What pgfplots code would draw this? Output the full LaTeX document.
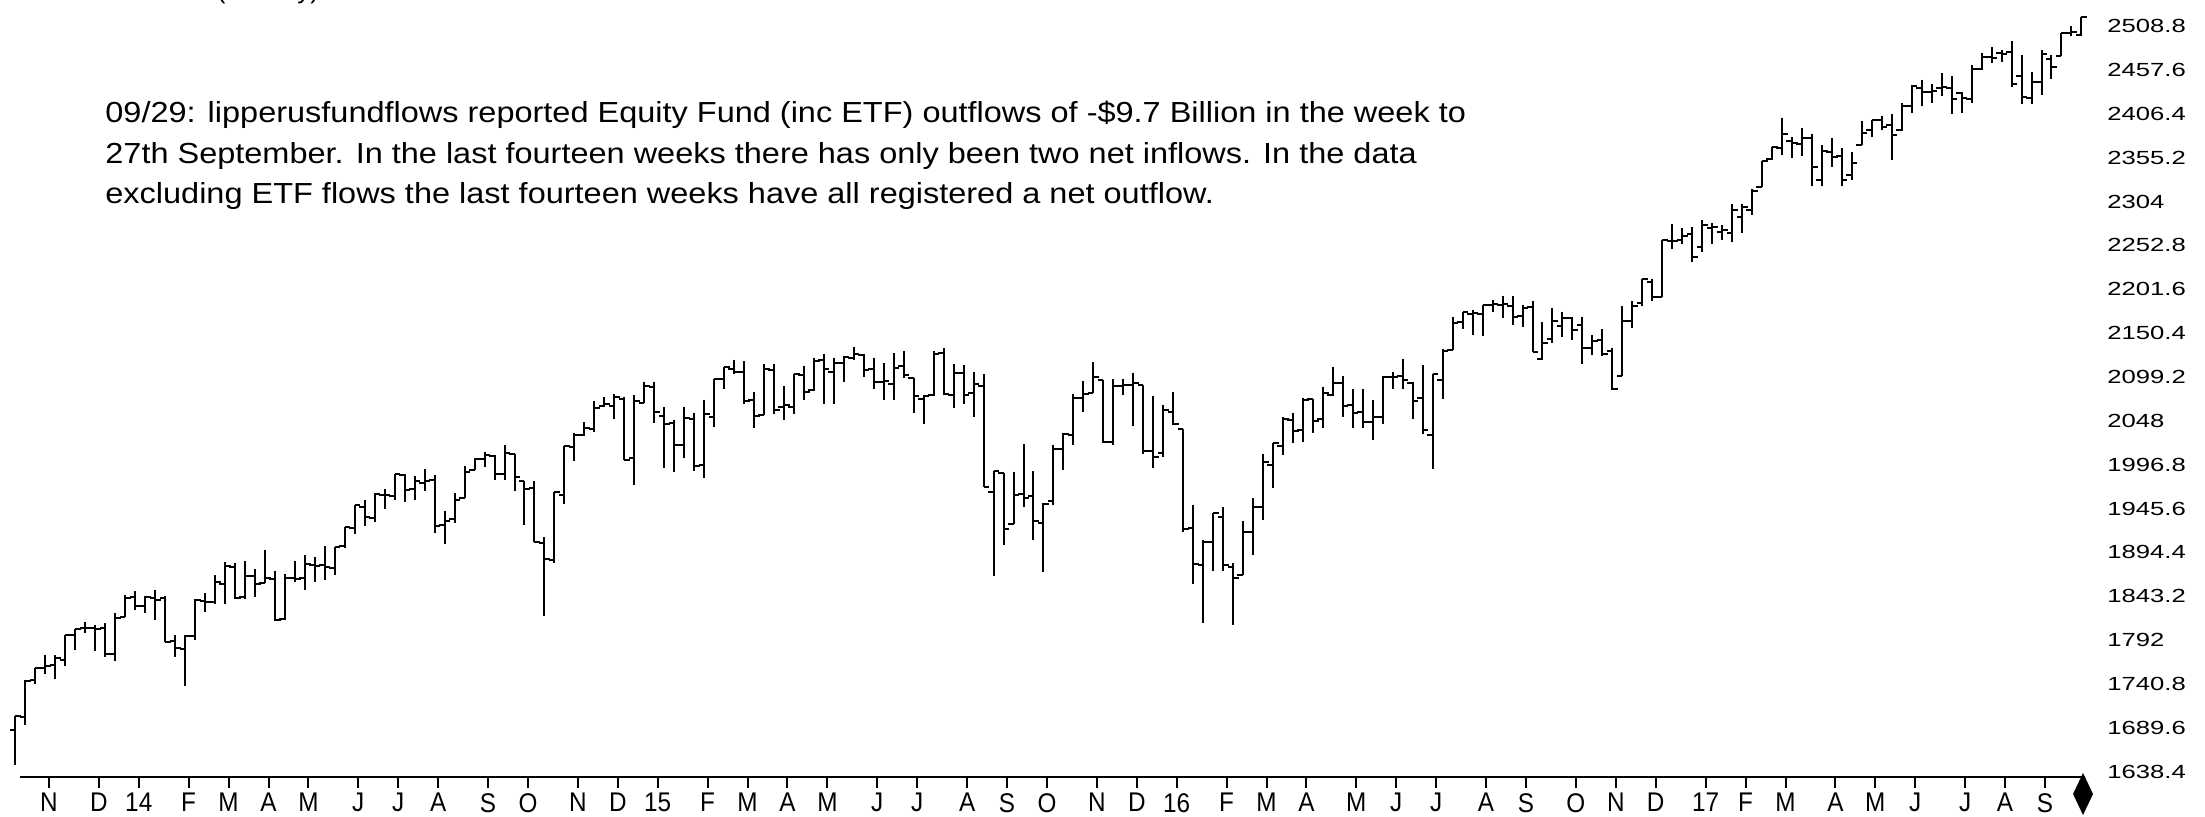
\documentclass[border=0pt]{standalone}
\usepackage{fontspec}
\setmainfont{Liberation Sans}
\newfontfamily\ylabfont[FakeStretch=1.35]{Liberation Sans}
\newfontfamily\xlabfont[FakeStretch=0.9]{Liberation Sans}
\newfontfamily\notefont[FakeStretch=1.12]{Liberation Sans}
\usepackage{pgfplots}
\usepackage{pgfplotstable}
\pgfplotsset{compat=1.18}

% weekly bars, week 0 = 7 Oct 2013
\pgfplotstableread{
i o h l c
0 1687 1703.4 1646.5 1703.2
1 1702 1745.3 1692.6 1744.5
2 1745 1759.8 1740.5 1759.8
3 1759 1775.2 1752.7 1761.6
4 1763 1774.5 1746.2 1770.6
5 1769 1798.2 1761.6 1798.2
6 1798 1804.8 1780.0 1804.8
7 1806 1813.6 1800.6 1805.8
8 1806 1810.0 1779.2 1805.1
9 1806 1811.5 1772.3 1775.3
10 1776 1823.8 1767.9 1818.3
11 1819 1844.9 1819.0 1841.4
12 1842 1849.4 1827.7 1831.4
13 1832 1843.2 1823.7 1842.4
14 1841 1850.8 1815.5 1838.7
15 1841 1844.0 1790.3 1790.3
16 1791 1798.0 1772.3 1782.6
17 1782 1798.0 1737.9 1797.0
18 1797 1840.0 1791.8 1838.6
19 1838 1847.5 1824.6 1836.3
20 1836 1867.9 1834.4 1859.5
21 1857 1883.6 1834.4 1878.0
22 1877 1882.4 1839.6 1841.1
23 1842 1883.9 1839.9 1866.5
24 1867 1875.0 1842.6 1857.6
25 1859 1897.3 1858.6 1865.1
26 1863 1872.5 1814.4 1815.7
27 1817 1869.6 1815.8 1864.9
28 1865 1884.9 1859.7 1863.4
29 1865 1891.3 1850.6 1881.1
30 1880 1889.0 1859.8 1878.5
31 1880 1902.2 1862.4 1877.9
32 1876 1901.3 1868.1 1900.5
33 1902 1924.0 1900.0 1923.6
34 1923 1949.4 1915.9 1949.4
35 1948 1955.5 1925.8 1936.2
36 1934 1963.9 1930.0 1962.9
37 1962 1968.2 1944.7 1960.9
38 1960 1985.6 1955.6 1985.4
39 1985 1985.4 1952.9 1967.6
40 1968 1983.9 1955.6 1978.2
41 1976 1991.4 1965.8 1978.3
42 1979 1984.9 1916.7 1925.2
43 1926 1942.9 1904.8 1931.6
44 1933 1964.0 1928.8 1955.1
45 1958 1994.7 1958.0 1988.4
46 1991 2005.0 1990.5 2003.4
47 2004 2011.2 1994.1 2007.7
48 2007 2008.0 1978.5 1985.5
49 1986 2019.3 1978.5 2010.4
50 2009 2009.0 1965.9 1982.9
51 1978 1978.2 1926.0 1967.9
52 1970 1977.4 1906.0 1906.1
53 1905 1912.0 1820.7 1886.8
54 1885 1965.3 1882.0 1964.6
55 1962 2018.2 1951.0 2018.1
56 2018 2034.3 2001.0 2031.9
57 2032 2046.2 2030.2 2039.8
58 2039 2071.5 2034.5 2063.5
59 2065 2075.8 2064.0 2067.6
60 2065 2079.5 2049.6 2075.4
61 2074 2075.8 2002.3 2002.3
62 2005 2077.9 1972.6 2070.7
63 2069 2093.6 2069.0 2088.8
64 2088 2093.6 2046.0 2058.2
65 2054 2064.4 1992.4 2044.8
66 2046 2049.3 1988.1 2019.4
67 2020 2064.6 2004.5 2051.8
68 2050 2057.6 1989.2 1995.0
69 1996 2072.4 1980.9 2055.5
70 2053 2097.0 2041.3 2097.0
71 2097 2110.6 2085.4 2110.3
72 2109 2119.6 2103.0 2104.5
73 2105 2117.5 2067.3 2071.3
74 2072 2081.4 2039.7 2053.4
75 2055 2114.9 2055.0 2108.1
76 2107 2114.9 2056.2 2061.0
77 2064 2088.3 2048.4 2067.0
78 2064 2102.6 2056.0 2102.1
79 2102 2111.9 2072.4 2081.2
80 2084 2120.9 2083.0 2117.7
81 2119 2125.9 2067.9 2108.3
82 2105 2120.9 2067.9 2116.1
83 2115 2124.0 2092.9 2122.7
84 2121 2134.7 2119.1 2126.1
85 2125 2126.2 2099.0 2107.4
86 2108 2121.9 2085.7 2092.8
87 2093 2115.0 2072.1 2094.1
88 2091 2126.7 2072.0 2110.0
89 2112 2129.9 2097.6 2101.5
90 2098 2098.0 2056.6 2076.8
91 2073 2078.5 2044.0 2076.6
92 2078 2129.0 2077.3 2126.6
93 2127 2132.8 2077.8 2079.7
94 2078 2114.2 2063.5 2103.8
95 2104 2112.7 2067.9 2077.6
96 2080 2105.4 2052.1 2091.5
97 2089 2102.3 1970.9 1970.9
98 1965 1989.0 1867.0 1988.9
99 1987 1987.0 1903.0 1921.2
100 1927 1988.6 1927.0 1961.0
101 1963 2020.9 1948.0 1958.0
102 1960 1989.4 1908.8 1931.3
103 1929 1952.0 1871.9 1951.4
104 1954 2020.2 1949.9 2014.9
105 2015 2034.0 1990.7 2033.1
106 2031 2079.7 2019.4 2075.2
107 2075 2094.3 2058.8 2079.4
108 2080 2116.5 2080.0 2099.2
109 2096 2096.0 2022.0 2023.0
110 2023 2097.0 2019.4 2089.2
111 2089 2096.9 2078.3 2090.1
112 2090 2104.3 2042.4 2091.7
113 2090 2090.0 2008.8 2012.4
114 2013 2076.7 1993.3 2005.6
115 2010 2067.0 2005.9 2061.0
116 2058 2081.6 2043.6 2043.9
117 2038 2038.0 1918.0 1922.0
118 1923 1950.3 1857.8 1880.3
119 1880 1908.8 1812.3 1906.9
120 1906 1940.2 1872.7 1940.2
121 1936 1947.2 1872.7 1880.0
122 1877 1881.6 1810.1 1864.8
123 1868 1930.7 1868.0 1917.8
124 1918 1958.0 1891.0 1948.0
125 1947 2009.1 1931.8 2000.0
126 1996 2022.4 1969.3 2022.2
127 2019 2052.4 2008.7 2049.6
128 2049 2056.6 2022.5 2035.9
129 2037 2075.0 2023.0 2072.8
130 2073 2073.0 2033.8 2047.6
131 2050 2087.8 2039.7 2080.7
132 2078 2111.0 2077.5 2091.6
133 2092 2099.9 2052.3 2065.3
134 2067 2084.9 2039.5 2057.1
135 2058 2084.9 2039.5 2046.6
136 2047 2071.9 2025.9 2052.3
137 2052 2100.0 2043.8 2099.1
138 2099 2105.3 2085.4 2099.1
139 2100 2120.6 2084.8 2096.1
140 2092 2093.7 2050.4 2071.2
141 2075 2113.3 2032.1 2037.4
142 2031 2103.0 1991.7 2103.0
143 2096 2131.7 2074.0 2129.9
144 2131 2169.1 2131.0 2161.7
145 2163 2175.6 2154.8 2175.0
146 2173 2177.1 2148.0 2173.6
147 2173 2183.0 2147.6 2182.9
148 2183 2188.5 2175.0 2184.1
149 2183 2193.8 2168.5 2183.9
150 2182 2193.4 2160.4 2169.0
151 2170 2183.5 2157.6 2180.0
152 2181 2187.9 2127.8 2127.8
153 2120 2163.3 2119.1 2139.2
154 2143 2180.0 2139.2 2164.7
155 2159 2175.3 2145.3 2168.3
156 2168 2169.6 2142.6 2153.7
157 2160 2169.6 2114.7 2133.0
158 2133 2148.4 2124.4 2141.2
159 2142 2154.8 2123.8 2126.4
160 2129 2133.3 2083.8 2085.2
161 2100 2182.3 2100.0 2164.5
162 2165 2188.0 2156.0 2181.9
163 2186 2213.4 2182.3 2213.4
164 2210 2214.0 2187.4 2192.0
165 2192 2259.5 2192.0 2259.5
166 2258 2277.5 2248.4 2258.1
167 2259 2273.0 2254.8 2263.8
168 2266 2273.8 2233.6 2238.8
169 2251 2282.1 2245.1 2277.0
170 2273 2279.3 2254.3 2274.6
171 2269 2276.2 2258.8 2271.3
172 2267 2301.0 2257.0 2294.7
173 2286 2301.0 2267.0 2297.4
174 2294 2319.2 2288.5 2316.1
175 2321 2351.3 2321.0 2351.2
176 2354 2367.3 2352.9 2367.3
177 2366 2401.0 2358.9 2383.1
178 2375 2378.8 2354.5 2372.6
179 2371 2390.0 2357.5 2378.3
180 2378 2382.4 2322.3 2344.0
181 2329 2370.4 2322.3 2362.7
182 2362 2378.4 2344.5 2355.5
183 2357 2366.4 2322.3 2329.0
184 2335 2361.4 2329.0 2348.7
185 2370 2398.2 2370.0 2384.2
186 2388 2399.3 2379.8 2399.3
187 2399 2403.9 2388.0 2390.9
188 2393 2405.8 2352.7 2381.7
189 2387 2418.7 2386.8 2415.8
190 2415 2440.2 2407.7 2439.1
191 2437 2446.2 2415.7 2431.8
192 2432 2441.0 2419.4 2433.2
193 2437 2453.8 2426.8 2438.3
194 2436 2450.4 2405.7 2423.4
195 2431 2432.0 2407.7 2425.2
196 2424 2463.5 2418.5 2459.3
197 2459 2477.6 2457.2 2472.5
198 2473 2484.0 2465.8 2472.1
199 2477 2480.4 2466.5 2476.8
200 2478 2490.9 2437.8 2441.3
201 2450 2474.9 2417.4 2425.6
202 2425 2454.8 2417.4 2443.1
203 2443 2480.4 2428.2 2476.6
204 2470 2475.0 2446.6 2461.4
205 2474 2500.2 2474.0 2500.2
206 2501 2508.9 2496.7 2502.2
207 2499 2519.4 2496.8 2519.4
}\weekly

\begin{document}
\begin{tikzpicture}
\useasboundingbox (0pt,0pt) rectangle (1102.5pt,408pt);
\begin{axis}[
  at={(10pt,19.5pt)}, anchor=south west,
  scale only axis, width=1032.5pt, height=388.5pt,
  xmin=0.451, xmax=207.36, ymin=1632.21, ymax=2539.29,
  clip=false,
  axis x line*=bottom, axis y line*=right,
  x axis line style={line width=1pt, black, -},
  y axis line style={draw=none},
  tick align=outside, major tick length=5.5pt,
  xtick={3.35,8.35,12.35,17.35,21.35,25.35,29.35,34.35,38.35,42.35,47.35,51.35,
         56.35,60.35,64.35,69.35,73.35,77.35,81.35,86.35,90.35,95.35,99.35,103.35,
         108.35,112.35,116.35,121.35,125.35,129.35,134.35,138.35,142.35,147.35,151.35,156.35,
         160.35,164.35,169.35,173.35,177.35,182.35,186.35,190.35,195.35,199.35,203.35},
  xticklabels={N,D,14,F,M,A,M,J,J,A,S,O,N,D,15,F,M,A,M,J,J,A,S,O,
               N,D,16,F,M,A,M,J,J,A,S,O,N,D,17,F,M,A,M,J,J,A,S},
  x tick style={line width=1pt, black},
  xticklabel style={font=\xlabfont\fontsize{13.5}{14}\selectfont, anchor=north, inner sep=0pt, yshift=-2.5pt},
  ytick={1638.4,1689.6,1740.8,1792,1843.2,1894.4,1945.6,1996.8,2048,2099.2,
         2150.4,2201.6,2252.8,2304,2355.2,2406.4,2457.6,2508.8},
  yticklabels={1638.4,1689.6,1740.8,1792,1843.2,1894.4,1945.6,1996.8,2048,2099.2,
         2150.4,2201.6,2252.8,2304,2355.2,2406.4,2457.6,2508.8},
  y tick style={draw=none},
  yticklabel style={font=\ylabfont\fontsize{9.5}{10}\selectfont, anchor=west, inner sep=0pt, xshift=5.5pt},
]
% high-low range
\addplot[draw=none, mark=none, error bars/.cd, y dir=minus, y explicit, error mark=none,
  error bar style={draw=black, line width=1pt, solid}]
  table[x=i, y=h, y error expr=\thisrow{h}-\thisrow{l}] {\weekly};
% open tick (left)
\addplot[draw=none, mark=none, error bars/.cd, x dir=minus, x fixed=0.56, error mark=none,
  error bar style={draw=black, line width=1pt, solid}]
  table[x=i, y=o] {\weekly};
% close tick (right)
\addplot[draw=none, mark=none, error bars/.cd, x dir=plus, x fixed=0.56, error mark=none,
  error bar style={draw=black, line width=1pt, solid}]
  table[x=i, y=c] {\weekly};
\end{axis}
% chart title, cut off by the top edge
\node[anchor=base west, inner sep=0pt, font=\fontsize{13}{15}\selectfont] at (10pt,408.5pt) {S\&P 500 INDEX (Weekly)};
\begin{scope}[every node/.style={anchor=base west, inner sep=0pt, font=\notefont\fontsize{14.5}{17}\selectfont}]
\node at (52.5pt,346.5pt) {09/29: lipperusfundflows reported Equity Fund (inc ETF) outflows of -\$9.7 Billion in the week to};
\node at (52.5pt,326.5pt) {27th September. In the last fourteen weeks there has only been two net inflows. In the data};
\node at (52.5pt,306.5pt) {excluding ETF flows the last fourteen weeks have all registered a net outflow.};
\end{scope}
\fill (1041.5pt,21.5pt) -- (1046.5pt,11pt) -- (1041.5pt,0.5pt) -- (1036.5pt,11pt) -- cycle;
\end{tikzpicture}
\end{document}
